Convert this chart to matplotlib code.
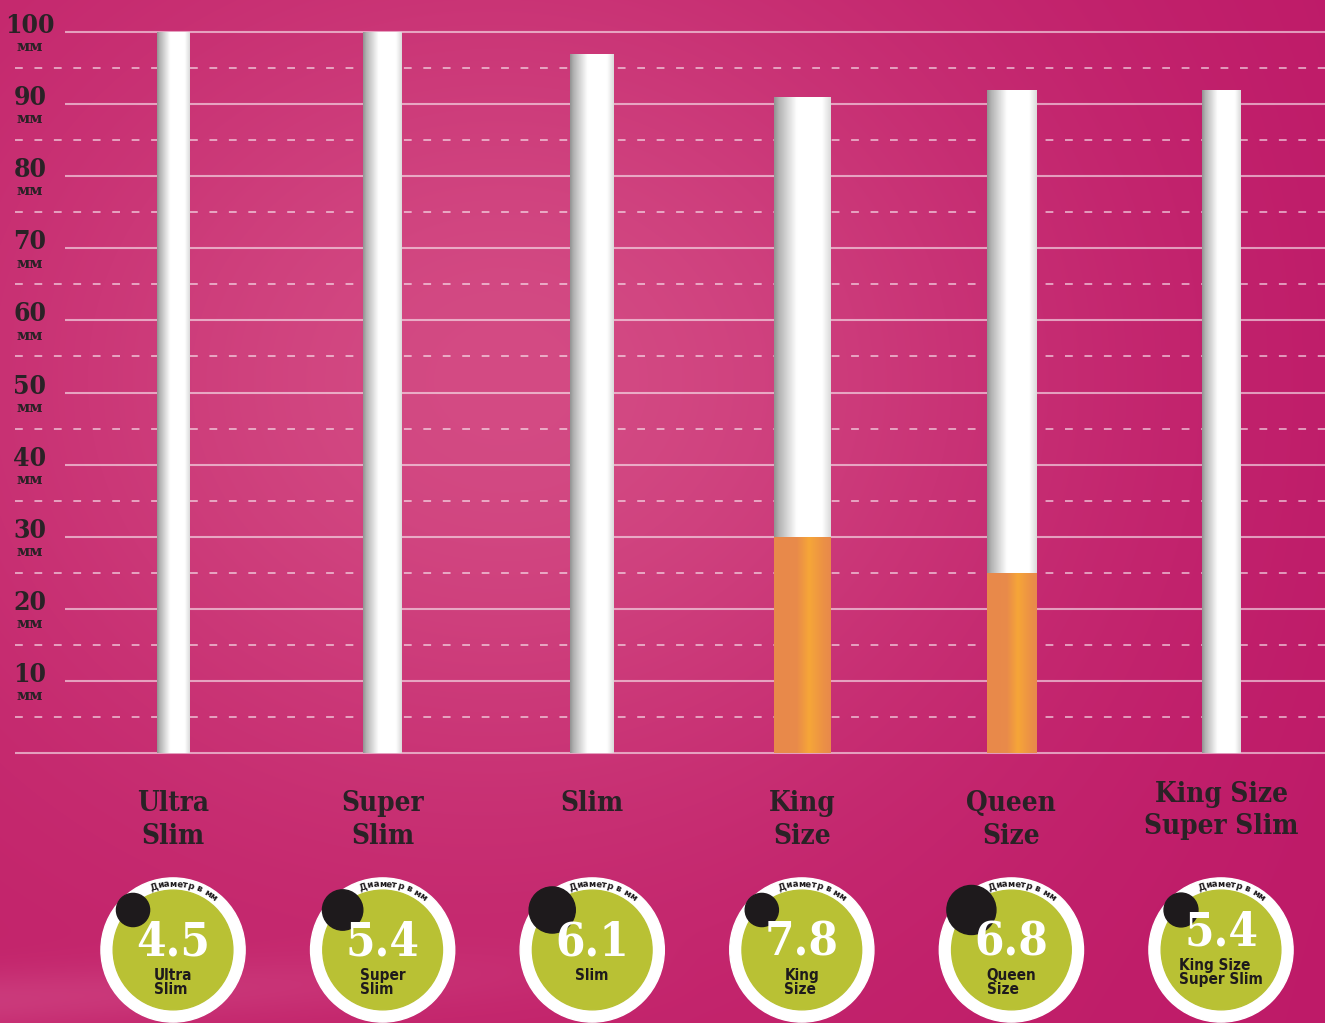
import numpy as np
import matplotlib
matplotlib.use("Agg")
import matplotlib.pyplot as plt
from matplotlib.patches import Circle
from matplotlib.font_manager import FontProperties
from matplotlib.textpath import TextToPath

# data
categories = ["Ultra\nSlim", "Super\nSlim", "Slim", "King\nSize", "Queen\nSize", "King Size\nSuper Slim"]
badge_labels = ["Ultra\nSlim", "Super\nSlim", "Slim", "King\nSize", "Queen\nSize", "King Size\nSuper Slim"]
length_mm = [100, 100, 97, 91, 92, 92]
filter_mm = [0, 0, 0, 30, 25, 0]
diameter_mm = [4.5, 5.4, 6.1, 7.8, 6.8, 5.4]
y_ticks = [10, 20, 30, 40, 50, 60, 70, 80, 90, 100]

# style
dot_radius = [2.3, 2.8, 3.2, 2.3, 3.4, 2.35]
PX = 7.21  # pixels per mm on the picture
W, H = 1325, 1023
BASE_PX = 753
TXT = "#2a2226"

fig = plt.figure(figsize=(W / 100, H / 100), dpi=100)
ax = fig.add_axes([0, 0, 1, 1])
xmax = W / PX
ymin, ymax = -(H - BASE_PX) / PX, BASE_PX / PX
ax.set_xlim(0, xmax)
ax.set_ylim(ymin, ymax)
ax.axis("off")

# background gradient
yy, xx = np.mgrid[0:H, 0:W]
base = np.array([194, 34, 106], dtype=float)
blob = np.exp(-(((xx - 520) / 520.0) ** 2 + ((yy - 380) / 430.0) ** 2))
img = np.zeros((H, W, 3))
img[:] = base
img += blob[..., None] * np.array([18, 42, 26])
img -= ((xx / W) ** 2)[..., None] * np.array([4, 8, 2])
streak = np.exp(-((yy - 1000 + 0.05 * xx) / 30.0) ** 2) * np.clip(1 - xx / 700, 0, 1)
img += streak[..., None] * np.array([8, 22, 16])
img = np.clip(img, 0, 255) / 255
ax.imshow(img, extent=[0, xmax, ymin, ymax], origin="upper", aspect="auto", zorder=0)

# grid lines
grid_col = (1, 1, 1, 0.55)
ax.hlines(y_ticks, 65 / PX, xmax, colors=[grid_col], linewidth=1.5, zorder=1)
ax.hlines([0], 15 / PX, xmax, colors=[grid_col], linewidth=1.5, zorder=1)
ax.hlines(np.array(y_ticks) - 5, 15 / PX, xmax, colors=[grid_col], linewidth=1.4,
          linestyles=[(0, (4, 6))], zorder=1)

for t in y_ticks:
    ax.text(30 / PX, t - 0.15, str(t), ha="center", va="baseline", fontsize=19,
            fontweight="heavy", family="DejaVu Serif", fontstretch="condensed", color=TXT, zorder=2)
    ax.text(30 / PX, t - 1.15, "мм", ha="center", va="top", fontsize=11,
            fontweight="bold", family="DejaVu Serif", color=TXT, zorder=2)

x = 24.0 + 29.07 * np.arange(len(categories))

# cigarettes
white_grad = np.interp(np.linspace(0, 1, 64), [0, 0.08, 0.4, 0.85, 1], [0.58, 0.7, 1.0, 1.0, 0.86])
white_img = np.repeat(white_grad[None, :, None], 3, axis=2)
orange_l = np.array([232, 137, 75]) / 255
orange_b = np.array([246, 166, 56]) / 255
t_o = np.interp(np.linspace(0, 1, 64), [0, 0.4, 0.62, 0.9, 1], [0, 0.05, 1, 0.2, 0])
orange_img = (orange_l[None, :] * (1 - t_o[:, None]) + orange_b[None, :] * t_o[:, None])[None, :, :]

bars = ax.bar(x, length_mm, width=diameter_mm, color="white", zorder=3)
for b in bars:
    im = ax.imshow(white_img, extent=[b.get_x(), b.get_x() + b.get_width(), 0, b.get_height()],
                   aspect="auto", zorder=3.1)
    im.set_clip_path(b)
fbars = ax.bar(x, filter_mm, width=diameter_mm, color="#e8894b", zorder=4)
for b in fbars:
    if b.get_height() <= 0:
        continue
    im = ax.imshow(orange_img, extent=[b.get_x(), b.get_x() + b.get_width(), 0, b.get_height()],
                   aspect="auto", zorder=4.1)
    im.set_clip_path(b)

# category labels
for xi, lab in zip(x, categories):
    yl = -3.9 if len(lab) > 15 else -5.2
    ax.text(xi, yl, lab, ha="center", va="top", fontsize=20, fontweight="heavy",
            family="DejaVu Serif", fontstretch="condensed", color=TXT, linespacing=1.25, zorder=5)

# diameter badges
cy = -(950 - BASE_PX) / PX
R_out, R_in = 10.0, 8.3
fp = FontProperties(family="DejaVu Sans", weight="bold", size=6.3)
t2p = TextToPath()
arc_text = "Диаметр в мм"
widths = [t2p.get_text_width_height_descent(ch, fp, ismath=False)[0] * 100 / 72 / PX
          for ch in arc_text]
widths = [w if w > 0 else 0.35 for w in widths]
R_txt = 9.15
span = sum(widths) / R_txt

for xi, d, lab, dr in zip(x, diameter_mm, badge_labels, dot_radius):
    ax.add_patch(Circle((xi, cy), R_out, color="white", zorder=5))
    ax.add_patch(Circle((xi, cy), R_in, color="#b9c134", zorder=6))
    ax.add_patch(Circle((xi - 5.55, cy + 5.55), dr, color="#1e1a1c", zorder=7))
    long = max(len(s) for s in lab.split("\n")) > 6
    ax.text(xi, cy + (2.4 if long else 1.0), f"{d:.1f}", ha="center", va="center",
            fontsize=34, fontweight="heavy", family="DejaVu Serif", fontstretch="condensed",
            color="white", zorder=8)
    ax.text(xi, cy - (1.1 if long else 2.5), lab, ha="center", va="top", multialignment="left",
            fontsize=11, fontweight="bold", family="DejaVu Sans", fontstretch="condensed",
            color="#1e1a1c", linespacing=0.95, zorder=8)
    ang = np.deg2rad(80) + span / 2
    for ch, w in zip(arc_text, widths):
        a = ang - (w / 2) / R_txt
        ax.text(xi + R_txt * np.cos(a), cy + R_txt * np.sin(a), ch, ha="center", va="center",
                rotation=np.rad2deg(a) - 90, rotation_mode="anchor", fontproperties=fp,
                color="#1e1a1c", zorder=8)
        ang -= w / R_txt

fig.savefig("out.png", dpi=100)
